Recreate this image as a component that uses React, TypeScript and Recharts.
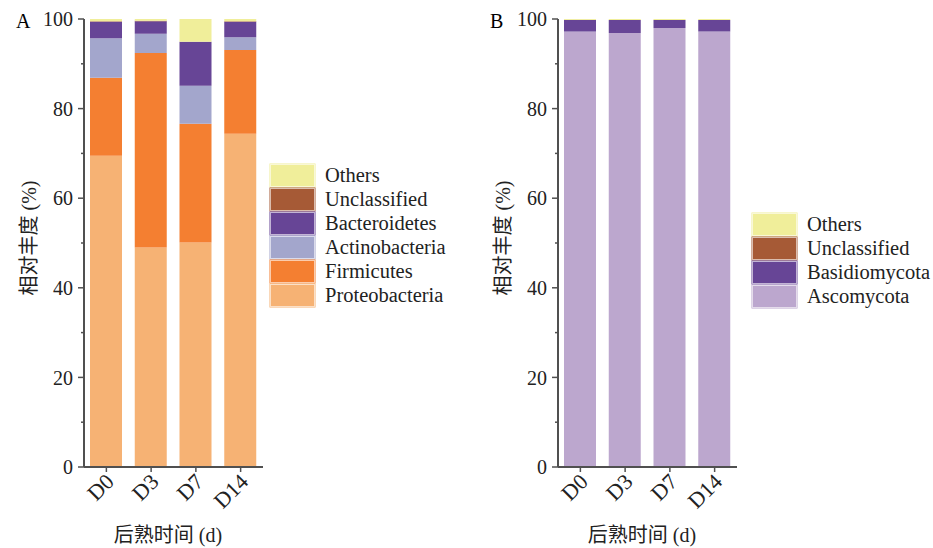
import { BarChart, Bar, XAxis, YAxis } from "recharts"

// sampling days
const categories = ["D0", "D3", "D7", "D14"]

// panel A - bacteria (phylum level), % relative abundance
const bacteriaNames = ["Proteobacteria", "Firmicutes", "Actinobacteria", "Bacteroidetes", "Unclassified", "Others"]
const proteobacteria = [69.5, 49.0, 50.1, 74.4]
const firmicutes = [17.4, 43.4, 26.5, 18.7]
const actinobacteria = [8.8, 4.3, 8.5, 2.8]
const bacteroidetes = [3.7, 2.8, 9.8, 3.5]
const unclassifiedA = [0.1, 0.1, 0.0, 0.1]
const othersA = [0.5, 0.4, 5.1, 0.5]
const bacteriaColors = ["#f6b274", "#f47f31", "#a3a6cc", "#674596", "#a65a36", "#f0ee9a"]

// panel B - fungi
const fungiNames = ["Ascomycota", "Basidiomycota", "Unclassified", "Others"]
const ascomycota = [97.2, 96.9, 98.0, 97.2]
const basidiomycota = [2.6, 2.9, 1.8, 2.6]
const unclassifiedB = [0.0, 0.0, 0.0, 0.0]
const othersB = [0.2, 0.2, 0.2, 0.2]
const fungiColors = ["#bca7ce", "#674596", "#a65a36", "#f0ee9a"]

const yTicks = [0, 10, 20, 30, 40, 50, 60, 70, 80, 90, 100]

const FONT = "'Liberation Serif', 'Noto Sans CJK SC', serif"
const AXIS = "#505050"

const buildRows = (names: string[], values: number[][]) =>
  categories.map((day, i) => {
    const row: any = { day }
    names.forEach((n, k) => (row[n] = values[k][i]))
    return row
  })

const bacteriaData = buildRows(bacteriaNames, [proteobacteria, firmicutes, actinobacteria, bacteroidetes, unclassifiedA, othersA])
const fungiData = buildRows(fungiNames, [ascomycota, basidiomycota, unclassifiedB, othersB])

const YTick = ({ x, y, payload }: any) => {
  const axisX = x + 8
  const major = payload.value % 20 === 0
  return (
    <g>
      <line x1={axisX - (major ? 6 : 3)} x2={axisX} y1={y} y2={y} stroke={AXIS} strokeWidth={1.5} />
      {major && (
        <text x={axisX - 11} y={y} dy="0.36em" textAnchor="end" fontSize={20} fontFamily={FONT} fill="#222">
          {payload.value}
        </text>
      )}
    </g>
  )
}

const XTick = ({ x, y, payload }: any) => (
  <text
    x={x + 9}
    y={y + 8}
    textAnchor="end"
    fontSize={22}
    fontFamily={FONT}
    fill="#222"
    transform={`rotate(-45, ${x + 9}, ${y + 8})`}
  >
    {payload.value}
  </text>
)

function Panel({ left, letter, data, names, colors, legendLeft, legendTop }: any) {
  return (
    <>
      <div style={{ position: "absolute", left, top: 0 }}>
        <BarChart width={270} height={548} data={data} margin={{ top: 19, right: 7, bottom: 0, left: 0 }}>
          <XAxis
            dataKey="day"
            height={81}
            tick={<XTick />}
            tickSize={5}
            tickMargin={3}
            interval={0}
            axisLine={{ stroke: AXIS, strokeWidth: 2 }}
            tickLine={{ stroke: AXIS, strokeWidth: 1.5 }}
          />
          <YAxis
            width={84}
            domain={[0, 100]}
            ticks={yTicks}
            interval={0}
            tick={<YTick />}
            tickSize={6}
            tickMargin={2}
            tickLine={false}
            axisLine={{ stroke: AXIS, strokeWidth: 2 }}
          />
          {names.map((n: string, i: number) => (
            <Bar key={n} dataKey={n} stackId="s" fill={colors[i]} barSize={32} isAnimationActive={false} />
          ))}
        </BarChart>
      </div>

      {/* panel letter */}
      <div style={{ position: "absolute", left: left + 16, top: 9, fontSize: 20, fontFamily: FONT, lineHeight: "24px" }}>
        {letter}
      </div>

      {/* y axis title */}
      <div
        style={{
          position: "absolute",
          left: left + 27,
          top: 238,
          transform: "translate(-50%, -50%) rotate(-90deg)",
          whiteSpace: "nowrap",
          fontSize: 20,
          fontFamily: FONT,
          color: "#222",
        }}
      >
        相对丰度 (%)
      </div>

      {/* x axis title */}
      <div
        style={{
          position: "absolute",
          left: left + 168,
          top: 533,
          transform: "translate(-50%, -50%)",
          whiteSpace: "nowrap",
          fontSize: 20,
          fontFamily: FONT,
          color: "#222",
        }}
      >
        后熟时间 (d)
      </div>

      {/* legend, top entry = last stacked series */}
      <div style={{ position: "absolute", left: legendLeft, top: legendTop }}>
        {names
          .map((n: string, i: number) => ({ n, c: colors[i] }))
          .reverse()
          .map((item: any) => (
            <div key={item.n} style={{ display: "flex", alignItems: "center", height: 24 }}>
              <div
                style={{
                  width: 43,
                  height: 21,
                  background: item.c,
                  border: "1px solid rgba(255,255,255,0.6)",
                  boxShadow: `0 0 0 0.5px ${item.c}`,
                }}
              />
              <span style={{ marginLeft: 10, fontSize: 20.5, fontFamily: FONT, color: "#222", lineHeight: "24px" }}>
                {item.n}
              </span>
            </div>
          ))}
      </div>
    </>
  )
}

export default function App() {
  return (
    <div style={{ position: "absolute", left: 0, top: 0, width: 933, height: 548, background: "#fff" }}>
      <Panel
        left={0}
        letter="A"
        data={bacteriaData}
        names={bacteriaNames}
        colors={bacteriaColors}
        legendLeft={270}
        legendTop={163}
      />
      <Panel
        left={474}
        letter="B"
        data={fungiData}
        names={fungiNames}
        colors={fungiColors}
        legendLeft={752}
        legendTop={212}
      />
    </div>
  )
}
